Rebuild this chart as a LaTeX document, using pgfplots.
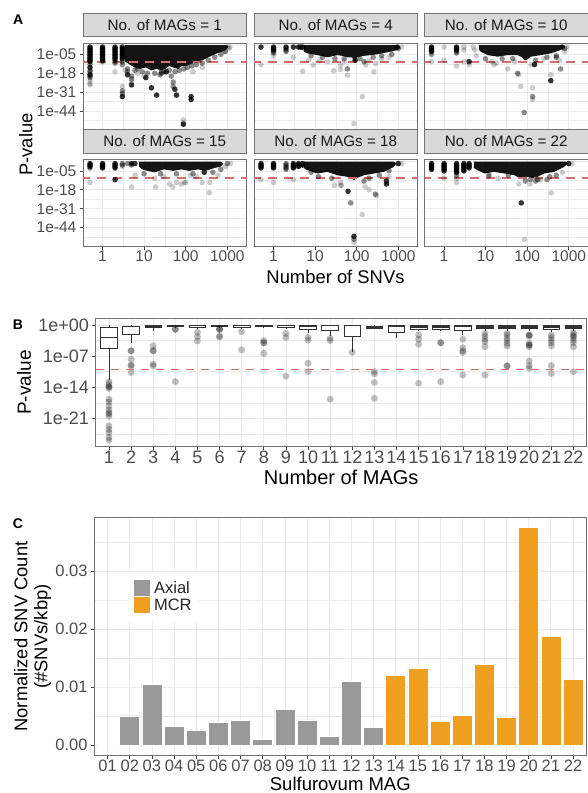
\documentclass[border=0pt]{standalone}
\usepackage{fontspec}
\setmainfont{Liberation Sans}
\usepackage{pgfplots}
\pgfplotsset{compat=1.18}
\usepgfplotslibrary{statistics}

\definecolor{stripfill}{RGB}{217,217,217}
\definecolor{frame}{RGB}{115,115,115}
\definecolor{gridc}{RGB}{235,235,235}
\definecolor{ticktext}{RGB}{77,77,77}
\definecolor{thr}{RGB}{214,108,108}
\definecolor{axial}{RGB}{153,153,153}
\definecolor{mcr}{RGB}{240,160,32}

\pgfplotsset{/pgf/number format/assume math mode=true}
\pgfplotsset{
  gg/.style={
    scale only axis,
    axis line style={frame, line width=0.7pt},
    grid=both,
    major grid style={gridc, line width=0.7pt},
    minor grid style={gridc, line width=0.4pt},
    tick align=outside,
    tick pos=left,
    major tick length=3.5pt,
    minor tick length=0pt,
    tick style={black!75, line width=0.6pt},
    tick label style={text=ticktext},
    xticklabel style={inner sep=1pt},
    yticklabel style={inner sep=3pt},
  },
  fct/.style={gg, anchor=south west,
    width=163.5pt, height=86.5pt,
    xmin=0.339, xmax=2904, ymin=2.5e-57, ymax=631,
    xtick={1,10,100,1000}, minor xtick={3.162,31.62,316.2},
    ytick={1e-5,1e-18,1e-31,1e-44},
    minor ytick={31.6,3.16e-12,3.16e-25,3.16e-38,3.16e-51},
    xticklabels={1,10,100,1000},
    yticklabels={1e-05,1e-18,1e-31,1e-44},
    tick label style={font=\fontsize{15.5}{16}\selectfont},
    title style={at={(0.5,1)}, anchor=south, yshift=0pt,
      fill=stripfill, draw=frame, line width=0.7pt,
      minimum width=163.5pt, minimum height=23.5pt, inner sep=0pt,
      text=black!90, font=\fontsize{15.2}{16}\selectfont},
  },
  toprow/.style={xticklabels={}, every x tick/.style={draw=none}},
  innercol/.style={yticklabels={}, every y tick/.style={draw=none}},
  dns/.style={fill=black, draw=none, fill opacity=0.92},
  dk/.style={only marks, mark=*, mark size=2.8pt, mark options={draw opacity=0, fill=black, fill opacity=0.8}},
  md/.style={only marks, mark=*, mark size=2.8pt, mark options={draw opacity=0, fill=black, fill opacity=0.45}},
  ltp/.style={only marks, mark=*, mark size=2.8pt, mark options={draw opacity=0, fill=black, fill opacity=0.2}},
  thrA/.style={color=thr, solid, line width=1.8pt, dash pattern=on 9pt off 7pt},
}

\begin{document}
\begin{tikzpicture}

% ---------------- Panel A ----------------
\begin{axis}[xmode=log, ymode=log, fct, toprow, at={(83pt,-129.5pt)}, title={No. of MAGs = 1}]
\addplot[dns] coordinates {(3.5,25) (1000,25) (1050,1) (900,1e-2) (780,1e-3) (600,1e-4) (500,1e-5) (420,1e-6) (350,1e-7) (300,1e-8) (250,1e-9) (200,1e-10) (160,1e-11) (125,1e-12) (100,1e-13) (80,1e-13) (65,1e-15) (50,1e-14) (40,1e-13) (32,1e-15) (25,1e-16) (20,1e-15) (15,1e-16) (11,1e-14) (8,1e-15) (6,1e-14) (4.5,1e-12) (3.5,1e-10)};
\addplot[dk] coordinates {(0.5,1) (0.5,1e-1) (0.5,1e-2) (0.5,1e-3) (0.5,1e-4) (0.5,1e-5) (0.5,1e-6) (0.5,1e-7) (0.5,1e-8) (0.5,1e-9) (0.5,1e-10) (0.5,1e-14) (0.5,1e-19)
 (1,1) (1,1e-1) (1,1e-2) (1,1e-3) (1,1e-4) (1,1e-5) (1,1e-6) (1,1e-7) (1,1e-8) (1,1e-9)
 (2,1) (2,1e-1) (2,1e-2) (2,1e-3) (2,1e-4) (2,1e-5) (2,1e-6) (2,1e-7) (2,1e-8)
 (3,1) (3,1e-1) (3,1e-2) (3,1e-3) (3,1e-4) (3,1e-5) (3,1e-6) (3,1e-7) (3,1e-8)
 (3,1e-34) (5,1e-26) (11,1e-21) (15,1e-28) (20,1e-33) (34,1e-17) (55,1e-29) (60,1e-33) (88,1e-53) (135,1e-34) (135,1e-36) (4,1e-19)};
\addplot[md] coordinates {(0.5,1e-12) (0.5,1e-16) (0.5,1e-17) (0.5,1e-20) (0.5,1e-21) (1,1e-10) (2,1e-9) (2,1e-10) (2,1e-11) (3,1e-10) (3,1e-12) (3,1e-30) (3,1e-32) (4,1e-15) (4,1e-17) (5,1e-20) (5,1e-22) (7,1e-13) (7,1e-15) (26,1e-17) (26,1e-18) (50,1e-24) (50,1e-27) (45,1e-20)
 (6,1e-16) (9,1e-17) (12,1e-18) (18,1e-18) (24,1e-19) (30,1e-17) (40,1e-16) (55,1e-17) (70,1e-16) (90,1e-15) (110,1e-14) (140,1e-13) (180,1e-12) (250,1e-11) (350,1e-9) (500,1e-7) (700,1e-5) (900,1e-3)};
\addplot[ltp] coordinates {(0.5,1e-23) (0.5,1e-25) (0.5,1e-26) (2,1e-17) (3,1e-27) (5,1e-24) (7,1e-18) (88,1e-50) (88,1e-52) (1000,1) (1100,1e-1) (850,1e-3) (1150,1) (3.5,1e-16) (10,1e-20) (150,1e-17) (250,1e-14)};
\addplot[thrA] coordinates {(0.3,1e-10) (3000,1e-10)};
\end{axis}

\begin{axis}[xmode=log, ymode=log, fct, toprow, innercol, at={(254pt,-129.5pt)}, title={No. of MAGs = 4}]
\addplot[dns] coordinates {(5.3,25) (950,25) (1050,1) (945,1e-2) (700,1e-3) (453,1e-4) (300,1e-5) (217,3e-6) (150,1e-6) (103,1e-7) (92,1e-10) (84,1e-10) (78,1e-7) (60,1e-7) (45,1e-6) (34,3e-6) (20,1e-7) (11.4,3e-6) (6.5,5e-5) (5.3,1e-3)};
\addplot[dk] coordinates {(0.5,1) (1,1) (1,1e-1) (1,1e-2) (2,1) (3,1) (4,1) (4.5,1) (5,1) (92,1e-9) (950,1)};
\addplot[md] coordinates {(1,1e-3) (1,1e-4) (2,1e-1) (2,1e-2) (2,1e-3) (60,1e-15) (150,1e-10) (8,1e-6) (15,1e-7) (30,1e-8) (50,1e-8) (120,1e-8) (250,1e-7) (400,1e-6) (700,1e-5) (1000,1e-1)};
\addplot[ltp] coordinates {(0.5,1e-12) (1,1e-6) (3,1e-7) (5,3e-17) (9,5e-13) (28,6e-17) (41,5e-16) (41,5e-13) (60,6e-20) (137,1e-34) (86,3e-53) (260,1e-17) (165,5e-13) (285,6e-12) (20,1e-10) (13,1e-9) (50,1e-10) (200,1e-9) (400,1e-8) (600,1e-7) (1200,1) (7,1e-9)};
\addplot[thrA] coordinates {(0.3,1e-10) (3000,1e-10)};
\end{axis}

\begin{axis}[xmode=log, ymode=log, fct, toprow, innercol, at={(424.5pt,-129.5pt)}, title={No. of MAGs = 10}]
\addplot[dns] coordinates {(7,25) (700,25) (750,1) (640,1e-2) (370,5e-5) (212,3e-6) (122,2.5e-7) (95,1e-9) (85,1e-9) (75,1e-7) (58.6,3e-6) (33.7,3e-6) (19.4,2.5e-7) (11.2,3e-6) (7.7,6e-4) (7,1e-2)};
\addplot[dk] coordinates {(0.5,1) (0.5,1e-1) (0.5,1e-2) (0.5,1e-3) (2,1) (2,1e-1) (2,1e-2) (370,1e-23) (150,1e-12) (4,1e-10) (700,1)};
\addplot[md] coordinates {(0.5,1e-5) (2,1e-3) (2,1e-4) (59,1e-18) (135,1e-34) (85,1e-45) (640,1e-15) (10,1e-8) (25,1e-8) (45,1e-8) (160,1e-9) (300,1e-7) (500,1e-6) (500,1e-7) (800,1e-1)};
\addplot[ltp] coordinates {(0.5,1e-10) (1,1) (1,1e-9) (2,1e-13) (3,1) (3,1e-2) (3,1e-10) (4,1e-12) (5,1) (5.5,1e-2) (6,1e-6) (16,1e-12) (18,1e-11) (34,1e-15) (62,1e-19) (70,1e-27) (135,1e-28) (135,1e-36) (370,1e-19) (125,1e-12) (50,1e-10) (14,1e-10) (250,1e-8) (600,1e-9) (900,1) (800,1e-3)};
\addplot[thrA] coordinates {(0.3,1e-10) (3000,1e-10)};
\end{axis}

\begin{axis}[xmode=log, ymode=log, fct, at={(83pt,-246pt)}, title={No. of MAGs = 15}]
\addplot[dns] coordinates {(7.5,25) (700,25) (800,1) (700,1e-2) (500,1e-3) (300,1e-5) (200,1e-4) (120,1e-5) (80,1e-4) (50,1e-5) (30,1e-4) (18,1e-6) (12,1e-5) (9,1e-4) (7.5,1e-2)};
\addplot[dk] coordinates {(0.5,1) (0.5,1e-1) (0.5,1e-2) (1,1) (1,1e-1) (1,1e-2) (1,1e-3) (2,1) (2,1e-1) (2,1e-2) (2,1e-3) (2,1e-11) (280,1e-6) (5,1) (6,1)};
\addplot[md] coordinates {(0.5,1e-3) (3,1) (3,1e-1) (4,1) (5,1e-1) (10,1e-7) (25,1e-7) (60,1e-7) (150,1e-7) (450,1e-6) (700,1e-4) (1000,1)};
\addplot[ltp] coordinates {(0.5,1e-13) (3,1e-2) (5,1e-16) (19,1e-16) (41,1e-14) (49,1e-16) (78,1e-14) (93,1e-13) (370,1e-20) (18,1e-10) (30,1e-9) (60,1e-13) (100,1e-13) (180,1e-9) (380,1e-13) (250,1e-13) (130,1e-8) (600,1e-8) (900,1e-2) (1200,1) (6,1e-8)};
\addplot[thrA] coordinates {(0.3,1e-10) (3000,1e-10)};
\end{axis}

\begin{axis}[xmode=log, ymode=log, fct, innercol, at={(254pt,-246pt)}, title={No. of MAGs = 18}]
\addplot[dns] coordinates {(5.3,25) (790,25) (900,1) (790,6e-3) (450,2e-6) (260,1.6e-7) (150,1e-8) (100,1e-10) (86,4e-12) (75,1e-10) (60,8e-10) (34,1e-8) (19.8,2e-6) (11.4,1.6e-7) (6.5,3e-5) (5.3,1e-3)};
\addplot[dk] coordinates {(0.5,1) (0.5,1e-1) (0.5,1e-2) (0.5,1e-3) (1,1) (1,1e-1) (1,1e-2) (1,1e-3) (3,1) (3,1e-1) (3,1e-2) (3,1e-3) (4,1) (4,1e-1) (4,1e-2) (5,1) (5,1e-1) (62,1e-19) (86,1e-50) (520,1e-12) (520,1e-14) (1000,1)};
\addplot[md] coordinates {(2,1) (2,1e-1) (2,1e-2) (2,1e-3) (2,1e-4) (72,1e-27) (86,1e-52) (280,1e-21) (12,1e-9) (25,1e-10) (150,1e-12) (200,1e-10) (8,1e-6) (350,1e-8) (600,1e-5)};
\addplot[ltp] coordinates {(0.5,1e-11) (1,1e-13) (3,1e-11) (29,1e-15) (41,1e-15) (41,1e-13) (43,1e-15) (136,1e-35) (86,1e-54) (200,1e-18) (160,1e-16) (300,1e-22) (600,1e-9) (1200,1)};
\addplot[thrA] coordinates {(0.3,1e-10) (3000,1e-10)};
\end{axis}

\begin{axis}[xmode=log, ymode=log, fct, innercol, at={(424.5pt,-246pt)}, title={No. of MAGs = 22}]
\addplot[dns] coordinates {(5.2,25) (850,25) (950,1) (775,6e-3) (445,2e-6) (255,1.6e-7) (147,5e-11) (102,8e-10) (70,5e-11) (49,1e-8) (28,1.6e-7) (16,2e-6) (9.3,1.6e-7) (6.4,3e-5) (5.2,1e-3)};
\addplot[dk] coordinates {(0.5,1) (0.5,1e-1) (0.5,1e-2) (0.5,1e-3) (0.5,1e-4) (1,1) (1,1e-1) (1,1e-2) (1,1e-3) (1,1e-4) (1,1e-5) (2,1) (2,1e-1) (2,1e-2) (2,1e-3) (2,1e-4) (2,1e-5) (2,1e-6) (3,1) (3,1e-1) (3,1e-2) (3,1e-3) (3,1e-4) (3,1e-5) (4,1) (4,1e-1) (4,1e-2) (4,1e-3) (72,1e-27) (1000,1)};
\addplot[md] coordinates {(2,1e-8) (160,1e-12) (180,1e-11) (300,1e-11) (350,1e-9) (35,1e-8) (500,1e-8) (12,1e-8) (90,1e-12) (120,1e-11)};
\addplot[ltp] coordinates {(1,1e-10) (2,1e-10) (2,1e-13) (63,1e-14) (86,1e-52) (117,1e-14) (210,1e-11) (380,1e-20) (12,1e-9) (20,1e-10) (1200,1) (700,1e-6)};
\addplot[thrA] coordinates {(0.3,1e-10) (3000,1e-10)};
\end{axis}

% ---------------- Panel B (y in log10 of P-value) ----------------
\begin{axis}[gg, anchor=south west, at={(95.7pt,-446.7pt)},
  width=491pt, height=128.4pt,
  xmin=0.4, xmax=22.6, ymin=-27.39, ymax=1.51,
  xtick={1,2,3,4,5,6,7,8,9,10,11,12,13,14,15,16,17,18,19,20,21,22},
  ytick={0,-7,-14,-21}, yticklabels={1e+00,1e-07,1e-14,1e-21},
  minor ytick={-3.5,-10.5,-17.5,-24.5},
  tick label style={font=\fontsize{18}{18}\selectfont},
  boxplot/draw direction=y, boxplot/box extend=0.75, boxplot/whisker extend=0,
  boxplot/every median/.style={line width=1.5pt},
  bx/.style={draw=black!80, fill=white, line width=0.8pt, solid},
]
\addplot[bx, boxplot prepared={draw position=1, lower whisker=-12.3, lower quartile=-5.33, median=-2.86, upper quartile=-0.52, upper whisker=0}] coordinates {};
\addplot[bx, boxplot prepared={draw position=2, lower whisker=-3.97, lower quartile=-2.1, median=-0.35, upper quartile=-0.2, upper whisker=0}] coordinates {};
\addplot[bx, boxplot prepared={draw position=3, lower whisker=-1.3, lower quartile=-0.5, median=-0.2, upper quartile=-0.05, upper whisker=0}] coordinates {};
\addplot[bx, boxplot prepared={draw position=4, lower whisker=-0.6, lower quartile=-0.35, median=-0.15, upper quartile=-0.05, upper whisker=0}] coordinates {};
\addplot[bx, boxplot prepared={draw position=5, lower whisker=-0.8, lower quartile=-0.45, median=-0.15, upper quartile=-0.05, upper whisker=0}] coordinates {};
\addplot[bx, boxplot prepared={draw position=6, lower whisker=-0.7, lower quartile=-0.4, median=-0.15, upper quartile=-0.05, upper whisker=0}] coordinates {};
\addplot[bx, boxplot prepared={draw position=7, lower whisker=-0.8, lower quartile=-0.45, median=-0.15, upper quartile=-0.05, upper whisker=0}] coordinates {};
\addplot[bx, boxplot prepared={draw position=8, lower whisker=-0.6, lower quartile=-0.35, median=-0.15, upper quartile=-0.05, upper whisker=0}] coordinates {};
\addplot[bx, boxplot prepared={draw position=9, lower whisker=-0.8, lower quartile=-0.45, median=-0.15, upper quartile=-0.05, upper whisker=0}] coordinates {};
\addplot[bx, boxplot prepared={draw position=10, lower whisker=-1.88, lower quartile=-0.98, median=-0.22, upper quartile=-0.05, upper whisker=0}] coordinates {};
\addplot[bx, boxplot prepared={draw position=11, lower whisker=-2.4, lower quartile=-1.28, median=-0.15, upper quartile=-0.02, upper whisker=0}] coordinates {};
\addplot[bx, boxplot prepared={draw position=12, lower whisker=-6.0, lower quartile=-2.48, median=-0.15, upper quartile=0, upper whisker=0}] coordinates {};
\addplot[bx, boxplot prepared={draw position=13, lower whisker=-0.9, lower quartile=-0.7, median=-0.55, upper quartile=-0.4, upper whisker=0}] coordinates {};
\addplot[bx, boxplot prepared={draw position=14, lower whisker=-2.85, lower quartile=-1.65, median=-0.37, upper quartile=-0.05, upper whisker=0}] coordinates {};
\addplot[bx, boxplot prepared={draw position=15, lower whisker=-1.4, lower quartile=-1.0, median=-0.5, upper quartile=-0.1, upper whisker=0}] coordinates {};
\addplot[bx, boxplot prepared={draw position=16, lower whisker=-1.3, lower quartile=-0.9, median=-0.5, upper quartile=-0.15, upper whisker=0}] coordinates {};
\addplot[bx, boxplot prepared={draw position=17, lower whisker=-2.25, lower quartile=-1.13, median=-0.37, upper quartile=-0.05, upper whisker=0}] coordinates {};
\addplot[bx, boxplot prepared={draw position=18, lower whisker=-1.4, lower quartile=-0.8, median=-0.4, upper quartile=-0.1, upper whisker=0}] coordinates {};
\addplot[bx, boxplot prepared={draw position=19, lower whisker=-1.4, lower quartile=-0.8, median=-0.4, upper quartile=-0.1, upper whisker=0}] coordinates {};
\addplot[bx, boxplot prepared={draw position=20, lower whisker=-1.4, lower quartile=-0.8, median=-0.4, upper quartile=-0.1, upper whisker=0}] coordinates {};
\addplot[bx, boxplot prepared={draw position=21, lower whisker=-1.6, lower quartile=-1.0, median=-0.5, upper quartile=-0.1, upper whisker=0}] coordinates {};
\addplot[bx, boxplot prepared={draw position=22, lower whisker=-1.4, lower quartile=-0.8, median=-0.4, upper quartile=-0.1, upper whisker=0}] coordinates {};
\addplot[only marks, mark=*, mark size=3.5pt, mark options={draw opacity=0, fill=black, fill opacity=0.25}] coordinates {
 (1,-12.75) (1,-13.3) (1,-13.9) (1,-13.9) (1,-14.26) (1,-16.73) (1,-17.3) (1,-18.2) (1,-19.1) (1,-19.7) (1,-20.0) (1,-20.5) (1,-22.7) (1,-23.5) (1,-24.2) (1,-25.3) (1,-25.9)
 (2,-5.8) (2,-5.8) (2,-7.7) (2,-9.0) (2,-9.2) (2,-10.7)
 (3,-4.7) (3,-5.8) (3,-5.8) (3,-8.8) (3,-9.2)
 (4,-0.97) (4,-0.97) (4,-12.75)
 (5,-1.65) (5,-2.6) (5,-3.6)
 (6,-0.75) (6,-1.0) (6,-1.0) (6,-2.5) (6,-2.7)
 (7,-1.5) (7,-5.6)
 (8,-3.5) (8,-4.0) (8,-4.0) (8,-6.4)
 (9,-1.9) (9,-2.8) (9,-11.5)
 (10,-2.8) (10,-3.4) (10,-8.6) (10,-10.5)
 (11,-3.0) (11,-3.5) (11,-16.7)
 (12,-6.15)
 (13,-10.5) (13,-11.0) (13,-12.9) (13,-16.5)
 (15,-2.25) (15,-3.2) (15,-4.35) (15,-13.1)
 (16,-3.98) (16,-3.98) (16,-12.75)
 (17,-3.2) (17,-5.1) (17,-5.8) (17,-6.2) (17,-11.25)
 (18,-1.88) (18,-2.5) (18,-3.2) (18,-3.75) (18,-4.88) (18,-11.25)
 (19,-1.88) (19,-2.25) (19,-3.0) (19,-3.5) (19,-4.13) (19,-4.73) (19,-9.2) (19,-9.2)
 (20,-2.25) (20,-2.25) (20,-2.5) (20,-4.1) (20,-4.5) (20,-4.5) (20,-4.9) (20,-8.1) (20,-9.15) (20,-9.76)
 (21,-2.25) (21,-2.8) (21,-3.4) (21,-4.0) (21,-4.7) (21,-9.15) (21,-10.9)
 (22,-1.65) (22,-2.1) (22,-2.5) (22,-2.8) (22,-3.4) (22,-4.0) (22,-4.9) (22,-10.5)};
\coordinate (thrL) at (axis cs:0.4,-10);
\coordinate (thrR) at (axis cs:22.6,-10);
\end{axis}
\draw[color=thr, solid, line width=1.8pt, dash pattern=on 8pt off 7pt] (thrL) -- (thrR);

% ---------------- Panel C ----------------
\begin{axis}[gg, anchor=south west, at={(94.3pt,-755.7pt)},
  width=492pt, height=238.4pt,
  xmin=0.4, xmax=22.6, ymin=-0.00187, ymax=0.0393,
  xtick={1,2,3,4,5,6,7,8,9,10,11,12,13,14,15,16,17,18,19,20,21,22},
  xticklabels={01,02,03,04,05,06,07,08,09,10,11,12,13,14,15,16,17,18,19,20,21,22},
  ytick={0,0.01,0.02,0.03}, yticklabels={0.00,0.01,0.02,0.03},
  minor ytick={0.005,0.015,0.025,0.035},
  scaled y ticks=false,
  tick label style={font=\fontsize{16.5}{17}\selectfont},
  xticklabel style={inner sep=0.5pt},
  legend cell align=left,
  legend style={at={(0.0709,0.7706)}, anchor=north west, draw=none, fill=white,
    inner xsep=4pt, inner ysep=7pt, row sep=0pt,
    font=\fontsize{16.5}{17}\selectfont,
    nodes={inner xsep=3.5pt, inner ysep=0.3pt, text=black!85}},
]
\addplot[ybar, bar width=0.9, bar shift=0pt, fill=axial, draw=white, line width=0.6pt,
  legend image code/.code={\draw[fill=axial, draw=white, line width=0.6pt] (0pt,-8.3pt) rectangle (16.6pt,8.3pt);}]
  coordinates {(1,0.0001) (2,0.0050) (3,0.0105) (4,0.00316) (5,0.0026) (6,0.0039) (7,0.00425) (8,0.0009) (9,0.0061) (10,0.0043) (11,0.0015) (12,0.0109) (13,0.0030)};
\addlegendentry{Axial}
\addplot[ybar, bar width=0.9, bar shift=0pt, fill=mcr, draw=white, line width=0.6pt,
  legend image code/.code={\draw[fill=mcr, draw=white, line width=0.6pt] (0pt,-8.3pt) rectangle (16.6pt,8.3pt);}]
  coordinates {(14,0.0120) (15,0.0132) (16,0.0040) (17,0.0051) (18,0.0139) (19,0.0047) (20,0.0375) (21,0.0188) (22,0.0113)};
\addlegendentry{MCR}
\end{axis}

% ---------------- labels ----------------
\node[font=\bfseries\fontsize{14}{14}\selectfont, inner sep=0pt] at (18.3pt,-20pt) {A};
\node[font=\bfseries\fontsize{14}{14}\selectfont, inner sep=0pt] at (18pt,-325pt) {B};
\node[font=\bfseries\fontsize{14}{14}\selectfont, inner sep=0pt] at (18pt,-524pt) {C};

\node[rotate=90, inner sep=0pt, font=\fontsize{18.4}{18}\selectfont] at (25.8pt,-144.5pt) {P-value};
\node[anchor=base, inner sep=0pt, font=\fontsize{18.4}{18}\selectfont] at (335.5pt,-283.3pt) {Number of SNVs};

\node[rotate=90, inner sep=0pt, font=\fontsize{19}{19}\selectfont] at (24.2pt,-382.5pt) {P-value};
\node[anchor=base, inner sep=0pt, font=\fontsize{20}{20}\selectfont] at (341.2pt,-484pt) {Number of MAGs};

\node[rotate=90, align=center, inner sep=0pt, font=\fontsize{18.4}{20}\selectfont] at (32.5pt,-636.5pt) {Normalized SNV Count\\(\#SNVs/kbp)};
\node[anchor=base, inner sep=0pt, font=\fontsize{18.5}{19}\selectfont] at (340.3pt,-790pt) {Sulfurovum MAG};

\pgfresetboundingbox
\path[use as bounding box] (0pt,0pt) rectangle (588pt,-793pt);
\end{tikzpicture}
\end{document}
